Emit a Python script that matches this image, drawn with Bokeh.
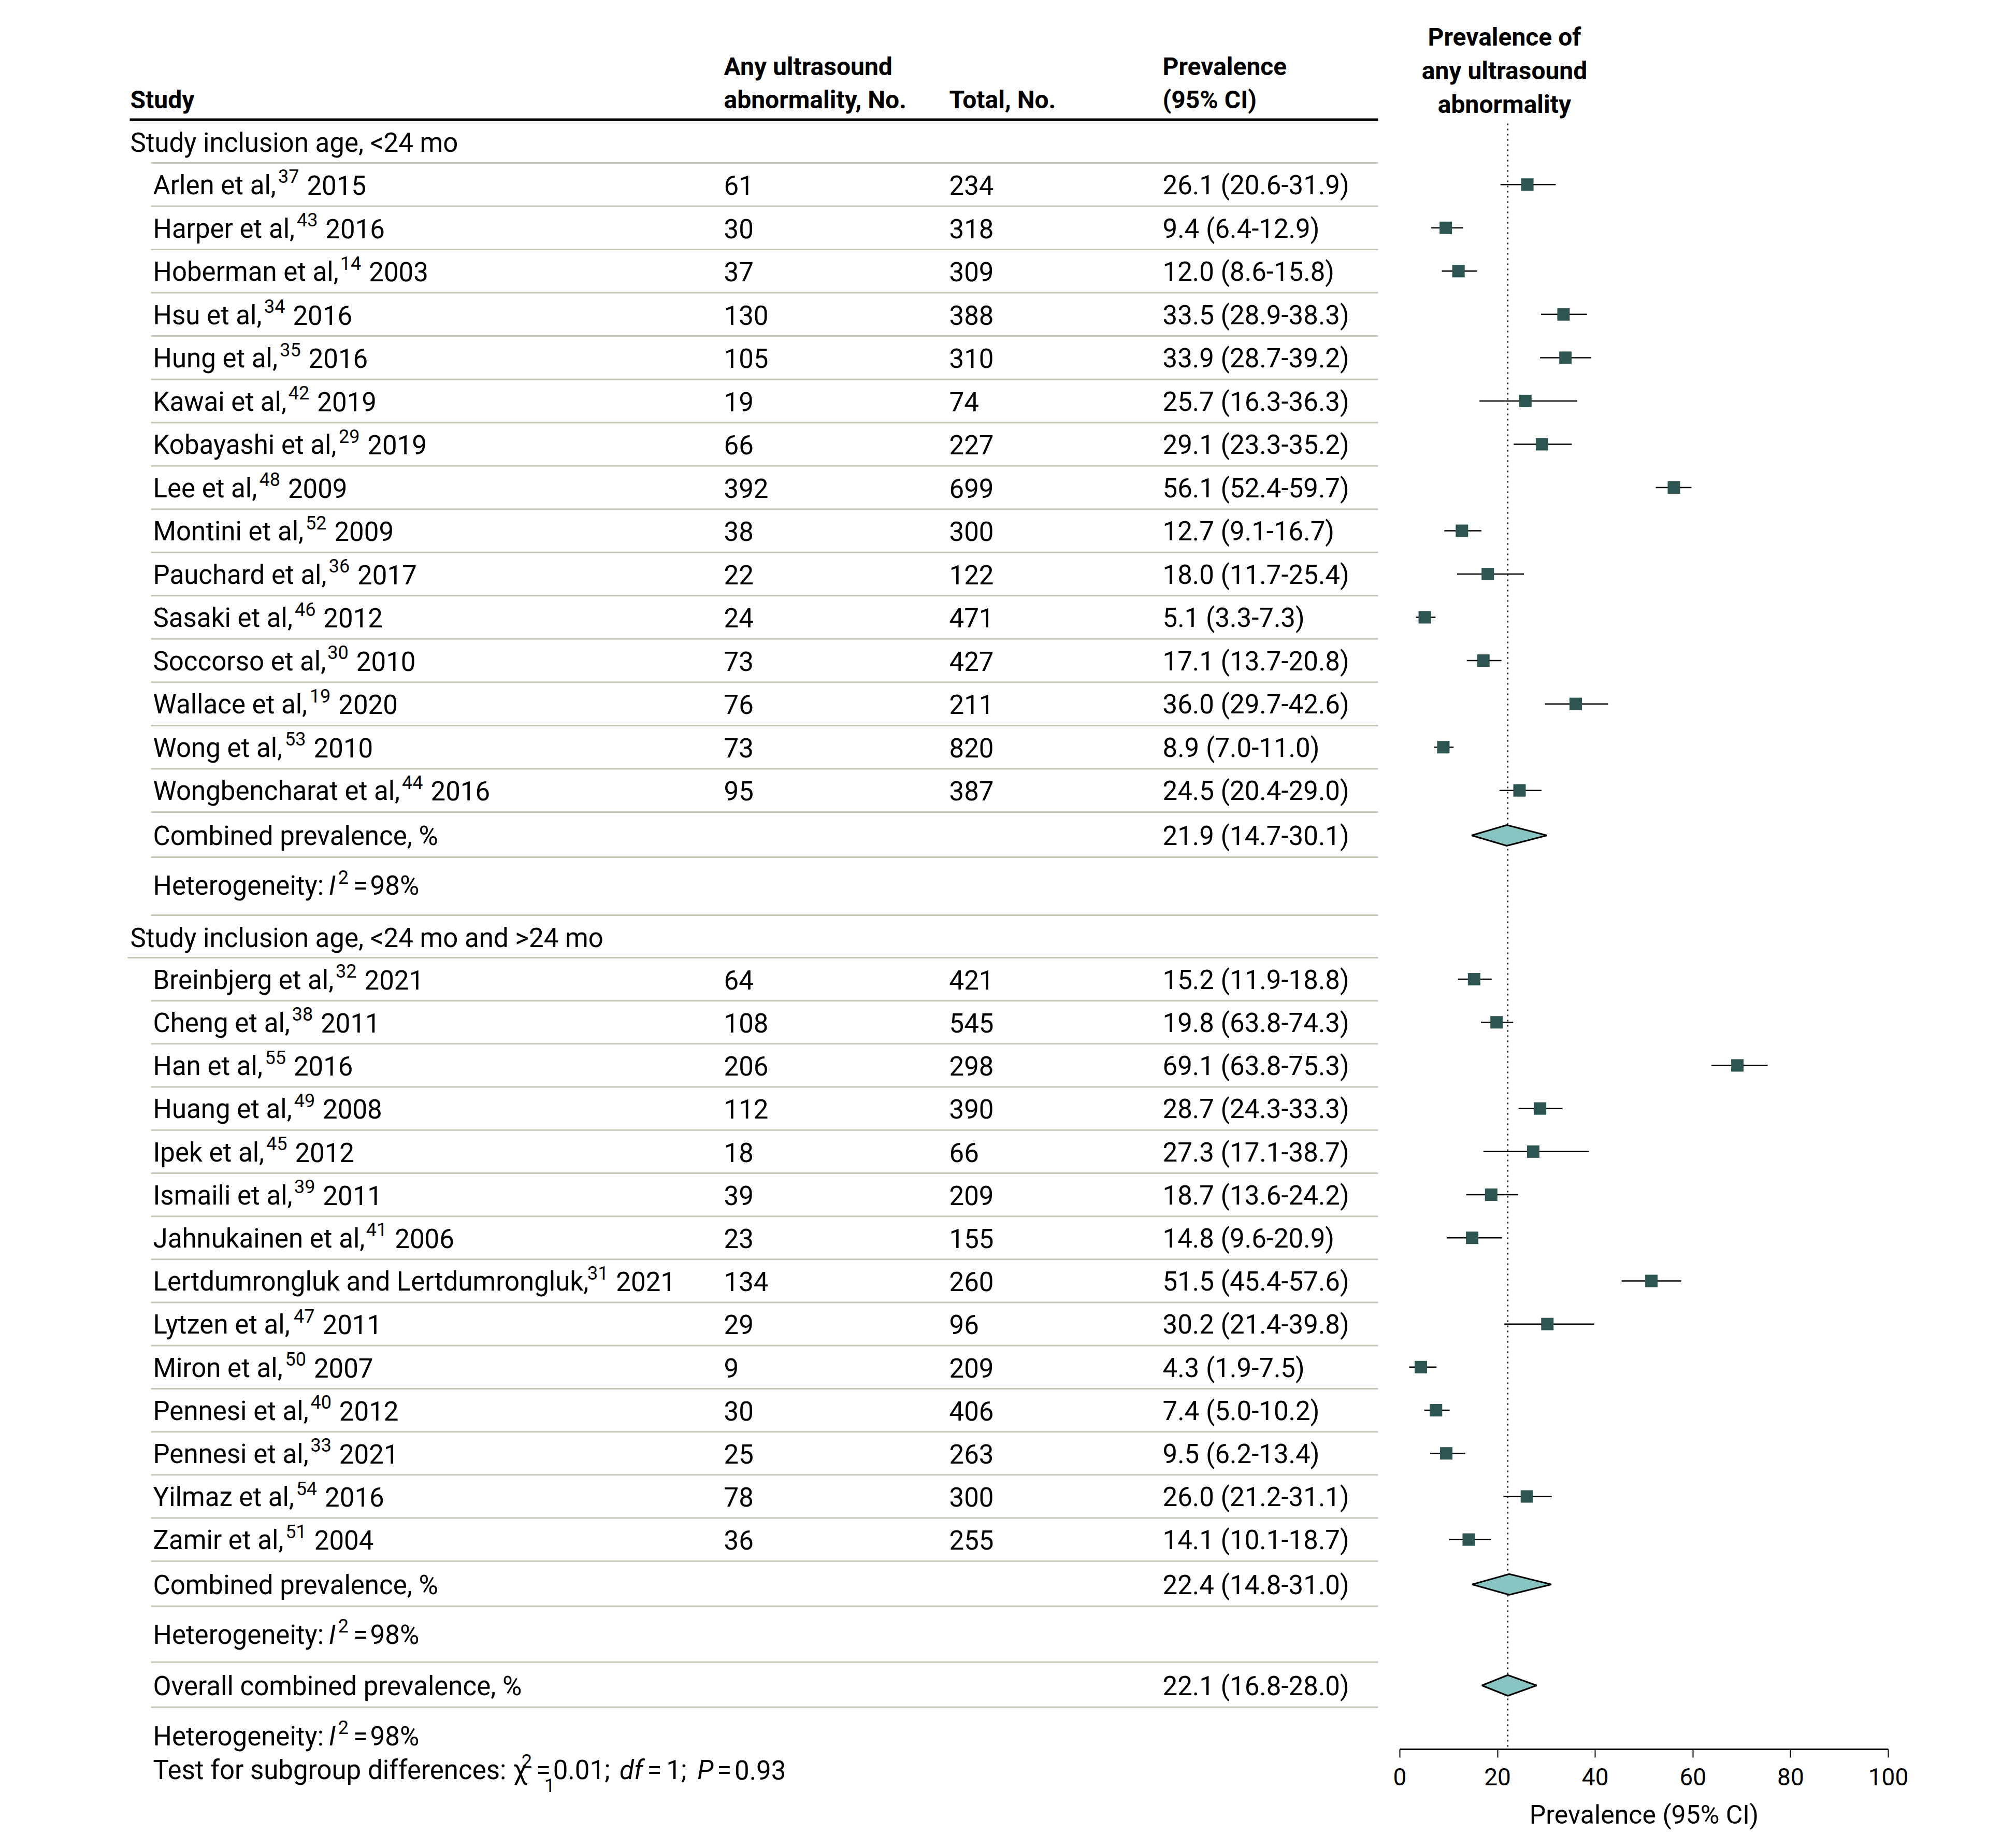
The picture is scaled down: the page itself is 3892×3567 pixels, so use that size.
from bokeh.plotting import figure
from bokeh.layouts import row
from bokeh.models import Range1d, FixedTicker, ColumnDataSource
from bokeh.core.properties import value
from bokeh.embed import file_html
from bokeh.resources import INLINE

# ---------------- data ----------------
g1_names = ["Arlen et al,", "Harper et al,", "Hoberman et al,", "Hsu et al,", "Hung et al,",
            "Kawai et al,", "Kobayashi et al,", "Lee et al,", "Montini et al,", "Pauchard et al,",
            "Sasaki et al,", "Soccorso et al,", "Wallace et al,", "Wong et al,", "Wongbencharat et al,"]
g1_refs = ["37", "43", "14", "34", "35", "42", "29", "48", "52", "36", "46", "30", "19", "53", "44"]
g1_years = ["2015", "2016", "2003", "2016", "2016", "2019", "2019", "2009", "2009", "2017",
            "2012", "2010", "2020", "2010", "2016"]
g1_events = [61, 30, 37, 130, 105, 19, 66, 392, 38, 22, 24, 73, 76, 73, 95]
g1_total = [234, 318, 309, 388, 310, 74, 227, 699, 300, 122, 471, 427, 211, 820, 387]
g1_est = [26.1, 9.4, 12.0, 33.5, 33.9, 25.7, 29.1, 56.1, 12.7, 18.0, 5.1, 17.1, 36.0, 8.9, 24.5]
g1_lo = [20.6, 6.4, 8.6, 28.9, 28.7, 16.3, 23.3, 52.4, 9.1, 11.7, 3.3, 13.7, 29.7, 7.0, 20.4]
g1_hi = [31.9, 12.9, 15.8, 38.3, 39.2, 36.3, 35.2, 59.7, 16.7, 25.4, 7.3, 20.8, 42.6, 11.0, 29.0]
g1_ci_text = ["26.1 (20.6-31.9)", "9.4 (6.4-12.9)", "12.0 (8.6-15.8)", "33.5 (28.9-38.3)",
              "33.9 (28.7-39.2)", "25.7 (16.3-36.3)", "29.1 (23.3-35.2)", "56.1 (52.4-59.7)",
              "12.7 (9.1-16.7)", "18.0 (11.7-25.4)", "5.1 (3.3-7.3)", "17.1 (13.7-20.8)",
              "36.0 (29.7-42.6)", "8.9 (7.0-11.0)", "24.5 (20.4-29.0)"]

g2_names = ["Breinbjerg et al,", "Cheng et al,", "Han et al,", "Huang et al,", "Ipek et al,",
            "Ismaili et al,", "Jahnukainen et al,", "Lertdumrongluk and Lertdumrongluk,",
            "Lytzen et al,", "Miron et al,", "Pennesi et al,", "Pennesi et al,", "Yilmaz et al,",
            "Zamir et al,"]
g2_refs = ["32", "38", "55", "49", "45", "39", "41", "31", "47", "50", "40", "33", "54", "51"]
g2_years = ["2021", "2011", "2016", "2008", "2012", "2011", "2006", "2021", "2011", "2007",
            "2012", "2021", "2016", "2004"]
g2_events = [64, 108, 206, 112, 18, 39, 23, 134, 29, 9, 30, 25, 78, 36]
g2_total = [421, 545, 298, 390, 66, 209, 155, 260, 96, 209, 406, 263, 300, 255]
g2_est = [15.2, 19.8, 69.1, 28.7, 27.3, 18.7, 14.8, 51.5, 30.2, 4.3, 7.4, 9.5, 26.0, 14.1]
g2_lo = [11.9, 16.6, 63.8, 24.3, 17.1, 13.6, 9.6, 45.4, 21.4, 1.9, 5.0, 6.2, 21.2, 10.1]
g2_hi = [18.8, 23.2, 75.3, 33.3, 38.7, 24.2, 20.9, 57.6, 39.8, 7.5, 10.2, 13.4, 31.1, 18.7]
g2_ci_text = ["15.2 (11.9-18.8)", "19.8 (63.8-74.3)", "69.1 (63.8-75.3)", "28.7 (24.3-33.3)",
              "27.3 (17.1-38.7)", "18.7 (13.6-24.2)", "14.8 (9.6-20.9)", "51.5 (45.4-57.6)",
              "30.2 (21.4-39.8)", "4.3 (1.9-7.5)", "7.4 (5.0-10.2)", "9.5 (6.2-13.4)",
              "26.0 (21.2-31.1)", "14.1 (10.1-18.7)"]

pooled_labels = ["Combined prevalence, %", "Combined prevalence, %", "Overall combined prevalence, %"]
pooled_est = [21.9, 22.4, 22.1]
pooled_lo = [14.7, 14.8, 16.8]
pooled_hi = [30.1, 31.0, 28.0]
pooled_ci_text = ["21.9 (14.7-30.1)", "22.4 (14.8-31.0)", "22.1 (16.8-28.0)"]

group_titles = ["Study inclusion age, <24 mo", "Study inclusion age, <24 mo and >24 mo"]
i2_value = "98%"
x_ticks = [0, 20, 40, 60, 80, 100]

# ---------------- styling / layout ----------------
FONT = "Roboto"
BODY = 51
HEAD = 48
SUP = 36
CORR = 0.33          # bokeh baseline correction (em)
SQ_COLOR = "#2d5552"
DIAMOND_COLOR = "#88c4c2"
RULE_COLOR = "#c4c8b4"

LW, TH = 2680, 3560          # left (table) figure size
TOTAL_W = 3890
AX_Y = 3376                  # axis line position (page px)
X0_PX, X100_PX = 2702.0, 3645.0
ppu = (X100_PX - X0_PX) / 100.0
AX_MID = (X0_PX + X100_PX) / 2
RFW = int(round(2 * AX_MID - LW)) - LW   # right frame centred on the axis
RBORDER = TOTAL_W - LW - RFW

ADV = {' ': 507, ',': 393, '.': 527, '-': 553, '(': 684, ')': 696, '%': 1465, ':': 485, ';': 433,
       '=': 1110, '<': 1020, '>': 1040, 'χ': 1000,
       'A': 1336, 'B': 1276, 'C': 1334, 'D': 1344, 'E': 1164, 'F': 1132, 'G': 1395, 'H': 1460,
       'I': 557, 'J': 1130, 'K': 1284, 'L': 1102, 'M': 1788, 'N': 1460, 'O': 1408, 'P': 1292,
       'Q': 1408, 'R': 1261, 'S': 1216, 'T': 1221, 'U': 1328, 'V': 1303, 'W': 1817, 'X': 1284,
       'Y': 1230, 'Z': 1226,
       'a': 1089, 'b': 1122, 'c': 1046, 'd': 1128, 'e': 1058, 'f': 694, 'g': 1122, 'h': 1102,
       'i': 486, 'j': 478, 'k': 1015, 'l': 486, 'm': 1752, 'n': 1104, 'o': 1140, 'p': 1122,
       'q': 1130, 'r': 678, 's': 1031, 't': 653, 'u': 1103, 'v': 968, 'w': 1502, 'x': 991,
       'y': 947, 'z': 991}
for d in "0123456789":
    ADV[d] = 1150


def tw(s, size):
    return sum(ADV.get(c, 1100) for c in s) / 2048.0 * size


# left figure: the table
t = figure(frame_width=LW, frame_height=TH, x_range=Range1d(0, LW), y_range=Range1d(TH, 0),
           output_backend="svg", toolbar_location=None, tools="", min_border=0,
           x_axis_location=None, y_axis_location=None)
# right figure: the forest plot
f = figure(frame_width=RFW, frame_height=AX_Y,
           x_range=Range1d((LW - X0_PX) / ppu, (LW + RFW - X0_PX) / ppu),
           y_range=Range1d(AX_Y, 0),
           output_backend="svg", toolbar_location=None, tools="", min_border=0,
           min_border_right=RBORDER, y_axis_location=None, x_axis_location="below")
f.extra_x_ranges = {"px": Range1d(LW, LW + RFW)}
for fig in (t, f):
    fig.xgrid.visible = False
    fig.ygrid.visible = False
    fig.outline_line_color = None
    fig.background_fill_color = "white"
    fig.border_fill_color = "white"

texts = {}


def add_text(x, y, s, size=BODY, style="normal", align="left", target="t"):
    key = (target, size, style, align)
    d = texts.setdefault(key, {"x": [], "y": [], "text": []})
    d["x"].append(x)
    d["y"].append(y - CORR * size)
    d["text"].append(s)


rules = {"x0": [], "x1": [], "y": []}


def add_rule(x0, y):
    rules["x0"].append(x0)
    rules["x1"].append(2660)
    rules["y"].append(y)


X_HEAD = 251
X_NAME = 295
X_EV = 1397
X_TOT = 1832
X_CI = 2244
BL = 0.355 * BODY  # cap-centre -> baseline


def study_line(xs, cy, name, ref, year):
    b = cy + BL
    add_text(xs, b, name)
    xsup = xs + tw(name, BODY) * 1.015 + 5
    add_text(xsup, b - 22, ref, size=SUP)
    add_text(xsup + tw(ref, SUP) + 15, b, year)


def het_line(cy):
    b = cy + BL
    x = X_NAME
    add_text(x, b, "Heterogeneity:")
    x += tw("Heterogeneity: ", BODY) + 4
    add_text(x, b, "I", style="italic")
    x += tw("I", BODY) + 4
    add_text(x, b - 22, "2", size=SUP)
    x += tw("2", SUP) + 9
    add_text(x, b, "=")
    x += tw("=", BODY) + 5
    add_text(x, b, i2_value)


# header
add_text(X_HEAD, 208, "Study", size=HEAD, style="bold")
add_text(X_EV, 144, "Any ultrasound", size=HEAD, style="bold")
add_text(X_EV, 208, "abnormality, No.", size=HEAD, style="bold")
add_text(X_TOT, 208, "Total, No.", size=HEAD, style="bold")
add_text(X_CI, 144, "Prevalence", size=HEAD, style="bold")
add_text(X_CI, 208, "(95% CI)", size=HEAD, style="bold")
for txt, b in zip(["Prevalence of", "any ultrasound", "abnormality"], [87, 152, 217]):
    add_text(2904, b, txt, size=HEAD, style="bold", align="center", target="f")

sq_x, sq_y, ci_lo, ci_hi, ci_y = [], [], [], [], []
dia_xs, dia_ys = [], []
DIA_H = 40


def add_pooled(cy, i):
    add_text(X_NAME, cy + BL, pooled_labels[i])
    add_text(X_CI, cy + BL, pooled_ci_text[i])
    dia_xs.append([pooled_lo[i], pooled_est[i], pooled_hi[i], pooled_est[i]])
    dia_ys.append([cy, cy - DIA_H / 2, cy, cy + DIA_H / 2])


def add_group(top, gi, names, refs, years, events, total, est, lo, hi, ci_text, pitch,
              title_h, title_rule_x, het_h):
    add_text(X_HEAD, top + title_h / 2 + 2 + BL, group_titles[gi])
    top += title_h
    add_rule(title_rule_x, top)
    for i in range(len(names)):
        cy = top + pitch / 2
        study_line(X_NAME, cy, names[i], refs[i], years[i])
        add_text(X_EV, cy + BL, str(events[i]))
        add_text(X_TOT, cy + BL, str(total[i]))
        add_text(X_CI, cy + BL, ci_text[i])
        sq_x.append(est[i]); sq_y.append(cy)
        ci_lo.append(lo[i]); ci_hi.append(hi[i]); ci_y.append(cy)
        top += pitch
        add_rule(291, top)
    add_pooled(top + 45, gi)
    top += 87
    add_rule(291, top)
    het_line(top + 54)
    top += het_h
    add_rule(291, top)
    return top


top = 230
top = add_group(top, 0, g1_names, g1_refs, g1_years, g1_events, g1_total,
                g1_est, g1_lo, g1_hi, g1_ci_text, 83.53, 84, 291, 112)
top = add_group(top, 1, g2_names, g2_refs, g2_years, g2_events, g2_total,
                g2_est, g2_lo, g2_hi, g2_ci_text, 83.2, 82, 246, 108)
add_pooled(top + 45, 2)
top += 87
add_rule(291, top)
het_line(top + 55)

# test for subgroup differences
b = top + 120 + BL
x = X_NAME
s1 = "Test for subgroup differences: χ"
add_text(x, b, s1)
x += tw(s1, BODY) + 3
add_text(x, b - 22, "2", size=SUP)
x += tw("2", SUP) + 8
add_text(x, b, "=")
add_text(x + 16, b + 25, "1", size=SUP)
x += tw("=", BODY) + 5
add_text(x, b, "0.01;")
x += tw("0.01; ", BODY) + 6
add_text(x, b, "df", style="italic")
x += tw("df", BODY) + 8
add_text(x, b, "=")
x += tw("=", BODY) + 9
add_text(x, b, "1;")
x += tw("1; ", BODY) + 8
add_text(x, b, "P", style="italic")
x += tw("P", BODY) + 6
add_text(x, b, "=")
x += tw("=", BODY) + 6
add_text(x, b, "0.93")

# ---------------- draw ----------------
t.segment(x0=[250], x1=[2660], y0=[230.5], y1=[230.5], line_color="black", line_width=5)
t.segment(x0="x0", x1="x1", y0="y", y1="y", source=ColumnDataSource(rules),
          line_color=RULE_COLOR, line_width=3)

f.segment(x0=[pooled_est[2]], x1=[pooled_est[2]], y0=[238], y1=[AX_Y],
          line_color="black", line_width=2.5, line_dash="3 7")
f.segment(x0=ci_lo, x1=ci_hi, y0=ci_y, y1=ci_y, line_color="black", line_width=2.5)
f.scatter(x=sq_x, y=sq_y, marker="square", size=24, fill_color=SQ_COLOR, line_color=None)
f.patches(xs=dia_xs, ys=dia_ys, fill_color=DIAMOND_COLOR, line_color="black", line_width=3)

for (target, size, style, align), d in texts.items():
    fig = t if target == "t" else f
    kw = {} if target == "t" else {"x_range_name": "px"}
    fig.text(x="x", y="y", text="text", source=ColumnDataSource(d),
             text_font=value(FONT), text_font_size=f"{size}px", text_font_style=style,
             text_align=align, text_baseline="alphabetic", text_color="black", **kw)

ax = f.xaxis[0]
ax.ticker = FixedTicker(ticks=x_ticks)
ax.bounds = (0, 100)
ax.axis_line_width = 3
ax.axis_line_color = "black"
ax.major_tick_line_width = 2
ax.major_tick_line_color = "black"
ax.major_tick_out = 16
ax.major_tick_in = 0
ax.minor_tick_line_color = None
ax.major_label_text_font = FONT
ax.major_label_text_font_size = "46px"
ax.major_label_text_color = "black"
ax.major_label_standoff = 20
ax.axis_label = "Prevalence (95% CI)"
ax.axis_label_text_font = FONT
ax.axis_label_text_font_size = "50px"
ax.axis_label_text_font_style = "normal"
ax.axis_label_text_color = "black"
ax.axis_label_standoff = 25

layout = row(t, f, spacing=0)
open("out.html", "w").write(file_html(layout, INLINE))
